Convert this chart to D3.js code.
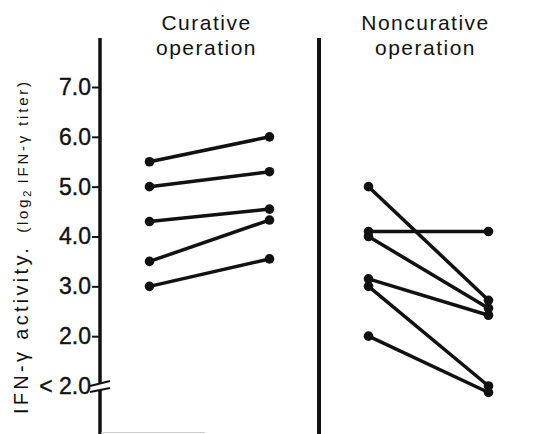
<!DOCTYPE html>
<html><head><meta charset="utf-8">
<script src="https://cdn.jsdelivr.net/npm/d3@7"></script>
<style>body{margin:0;background:#fff}svg{display:block}</style>
</head><body>
<script>
// ---- data ----
const groups = ["Curative", "Noncurative"];
const groupSub = "operation";
const phases = ["before", "after"];
// log2 IFN-γ titer; the "< 2.0" level is plotted at 1 on the scale
const curBefore = [5.5, 5.0, 4.3, 3.5, 3.0];
const curAfter  = [6.0, 5.3, 4.55, 4.33, 3.55];
const nonBefore = [5.0, 4.1, 4.0, 3.15, 3.0, 2.0];
const nonAfter  = [2.72, 4.1, 2.56, 2.42, 1.0, 0.87];
const tickValues = [7, 6, 5, 4, 3, 2, 1];
const tickLabels = ["7.0", "6.0", "5.0", "4.0", "3.0", "2.0", "< 2.0"];

const W = 536, H = 434;
const svg = d3.select("body").append("svg").attr("width", W).attr("height", H);

const y = d3.scaleLinear().domain([1, 7]).range([386, 87]);
const xg = d3.scaleBand().domain(groups).range([100, 538]);
const xp = d3.scalePoint().domain(phases).range([-60, 60]);

const font = "'Liberation Sans', Arial, sans-serif";
const narrow = "'Liberation Sans Narrow', 'Liberation Sans', Arial, sans-serif";

// y axis ticks + labels
const ax = svg.append("g").attr("transform", "translate(100,0)")
  .call(d3.axisLeft(y).tickValues(tickValues).tickFormat((d, i) => tickLabels[i]).tickSize(8).tickPadding(1));
ax.select(".domain").remove();
ax.selectAll(".tick line").attr("stroke", "#111").attr("stroke-width", 2);
ax.selectAll(".tick text").attr("font-family", narrow).attr("font-size", 23).attr("fill", "#111")
  .attr("stroke", "#111").attr("stroke-width", 0.4);
ax.selectAll(".tick").filter(d => d === 1).select("line").remove();

// main axis line with break at <2.0 level
const yb = y(1);
svg.append("line").attr("x1", 100).attr("x2", 100).attr("y1", 38).attr("y2", yb - 3)
  .attr("stroke", "#111").attr("stroke-width", 3.5);
svg.append("line").attr("x1", 100).attr("x2", 100).attr("y1", yb + 4).attr("y2", 434)
  .attr("stroke", "#111").attr("stroke-width", 3.5);
svg.append("line").attr("x1", 90).attr("x2", 110).attr("y1", yb).attr("y2", yb - 5)
  .attr("stroke", "#111").attr("stroke-width", 2);
svg.append("line").attr("x1", 90).attr("x2", 110).attr("y1", yb + 6).attr("y2", yb + 2)
  .attr("stroke", "#111").attr("stroke-width", 2);
// faint bottom line
svg.append("line").attr("x1", 101).attr("x2", 205).attr("y1", 432.5).attr("y2", 432.5)
  .attr("stroke", "#ccc").attr("stroke-width", 1);

// divider between groups
svg.append("line").attr("x1", xg("Noncurative")).attr("x2", xg("Noncurative")).attr("y1", 38).attr("y2", 434)
  .attr("stroke", "#111").attr("stroke-width", 4);

// group titles
groups.forEach(g => {
  const cx = xg(g) + xg.bandwidth() / 2 - 3;
  const t = svg.append("text").attr("text-anchor", "middle").attr("font-family", font)
    .attr("font-size", 21).attr("letter-spacing", 1.5).attr("fill", "#111");
  t.append("tspan").attr("x", cx).attr("y", 30).text(g);
  t.append("tspan").attr("x", cx).attr("y", 55).text(groupSub);
});

// y axis title
const yt = svg.append("text").attr("transform", "translate(28,414) rotate(-90)")
  .attr("font-family", font).attr("fill", "#111");
yt.append("tspan").attr("font-size", 20).attr("letter-spacing", 3.3).text("IFN-γ activity.");
yt.append("tspan").attr("font-size", 15).attr("letter-spacing", 2.8).attr("dx", 12).text("(log");
yt.append("tspan").attr("font-size", 11).attr("dy", 3).text("2");
yt.append("tspan").attr("font-size", 15).attr("letter-spacing", 2.8).attr("dy", -3).text(" IFN-γ titer)");

// pairs
const sets = [
  {g: "Curative", before: curBefore, after: curAfter},
  {g: "Noncurative", before: nonBefore, after: nonAfter}
];
sets.forEach(s => {
  const cx = xg(s.g) + xg.bandwidth() / 2;
  const gg = svg.append("g");
  s.before.forEach((b, i) => {
    const a = s.after[i];
    gg.append("line").attr("x1", cx + xp("before")).attr("y1", y(b))
      .attr("x2", cx + xp("after")).attr("y2", y(a))
      .attr("stroke", "#111").attr("stroke-width", 3.5);
    gg.append("circle").attr("cx", cx + xp("before")).attr("cy", y(b)).attr("r", 4.8).attr("fill", "#111");
    gg.append("circle").attr("cx", cx + xp("after")).attr("cy", y(a)).attr("r", 4.8).attr("fill", "#111");
  });
});
</script>
</body></html>
